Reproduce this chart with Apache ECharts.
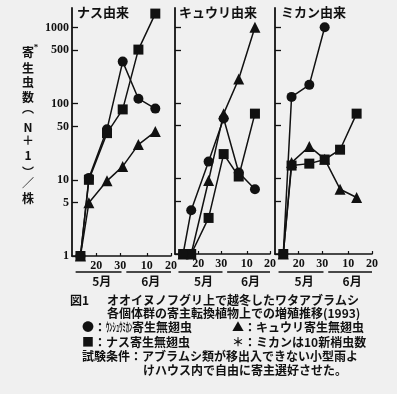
<!DOCTYPE html>
<html><head><meta charset="utf-8">
<script src="https://cdn.jsdelivr.net/npm/echarts@6/dist/echarts.min.js"></script>
<style>html,body{margin:0;padding:0;background:#f0f0f0}#c{width:397px;height:394px}</style>
</head><body><div id="c"></div>
<script>
// ---- data ----
const panelTitles = ['ナス由来', 'キュウリ由来', 'ミカン由来'];
// survey dates as day count from 1 May (1 June = 32)
const surveyDays = [13.5, 17, 24.5, 31, 37.5, 44.5];
// ナス由来
const nasuCircle   = [1, 10.6, 46, 356, 116, 86];
const nasuSquare   = [1, 10, 41, 84, 512, 1520];
const nasuTriangle = [1, 5, 9.7, 15, 29, 43];
// キュウリ由来
const kyuriCircle   = [1, 3.8, 16.7, 62, 12, 7.2];
const kyuriSquare   = [1, 1, 3.0, 21, 10.6, 72];
const kyuriTriangle = [1, 1, 9.4, 72, 207, 1000];
// ミカン由来
const mikanCircle   = [1, 120, 173, 1000];
const mikanSquare   = [1, 14.8, 15.7, 17.8, 24, 72];
const mikanTriangle = [1, 16.2, 26.5, 18, 7.2, 5.6];

const xTickValues = [20, 30, 41, 51];
const xTickLabels = ['20', '30', '10', '20'];
const yTickValues = [1, 5, 10, 50, 100, 500, 1000];
const yTickLabels = ['1', '5', '10', '50', '100', '500', '1000'];
const monthLabels = ['5月', '6月'];
const monthSpans = [[11.5, 30.5], [32.5, 51]];
const monthCenters = [22.3, 42.6];

const yName = ['寄', '生', '虫', '数', '︵', 'N', '＋', '1', '︶', '／', '株'];
const caption = [
  '図1', 'オオイヌノフグリ上で越冬したワタアブラムシ',
  '各個体群の寄主転換植物上での増殖推移(1993)',
  '●：', 'ｳﾝｼｭｳﾐｶﾝ', '寄生無翅虫', '▲：キュウリ寄生無翅虫',
  '■：ナス寄生無翅虫', '＊：ミカンは10新梢虫数',
  '試験条件：アブラムシ類が移出入できない小型雨よ',
  'けハウス内で自由に寄主選好させた。'
];

// ---- chart ----
const INK = '#111111';
const JP = '"Noto Sans CJK JP"';
const SERIF = '"Liberation Serif", "DejaVu Serif", serif';
const chart = echarts.init(document.getElementById('c'), null, {renderer: 'canvas'});

const grids = [
  {left: 72, top: 8, width: 99, height: 248},
  {left: 175, top: 8, width: 95, height: 246},
  {left: 275, top: 8, width: 97, height: 246}
];

const xAxes = grids.map((g, i) => ({
  type: 'value', gridIndex: i, min: 10, max: 51,
  axisLine: {show: true, lineStyle: {color: INK, width: 1.6}},
  axisTick: {show: true, inside: true, length: 3, customValues: xTickValues, lineStyle: {color: INK, width: 1.2}},
  axisLabel: {
    show: true, customValues: xTickValues, margin: 4,
    formatter: v => xTickLabels[xTickValues.indexOf(v)],
    fontFamily: SERIF, fontSize: 12, color: INK, fontWeight: 'bold'
  },
  splitLine: {show: false}
}));

const yAxes = grids.map((g, i) => ({
  type: 'log', logBase: 10, gridIndex: i, min: 1, max: 1800,
  axisLine: {show: true, lineStyle: {color: INK, width: 1.8}},
  axisTick: {show: true, inside: true, length: 6, customValues: yTickValues, lineStyle: {color: INK, width: 1.3}},
  axisLabel: {
    show: i === 0, customValues: yTickValues, margin: 3,
    formatter: v => yTickLabels[yTickValues.indexOf(v)] || '',
    fontFamily: SERIF, fontSize: 12, color: INK, fontWeight: 'bold'
  },
  splitLine: {show: false}
}));

function mk(values, gi, symbol, size) {
  return {
    type: 'line', xAxisIndex: gi, yAxisIndex: gi,
    data: values.map((v, k) => [surveyDays[k], v]),
    symbol: symbol, symbolSize: size, showSymbol: true,
    lineStyle: {color: INK, width: 1.5},
    itemStyle: {color: INK, borderWidth: 0},
    emphasis: {disabled: true}, animation: false
  };
}
const series = [
  mk(nasuTriangle, 0, 'triangle', 11), mk(nasuSquare, 0, 'rect', 10), mk(nasuCircle, 0, 'circle', 10),
  mk(kyuriTriangle, 1, 'triangle', 11), mk(kyuriSquare, 1, 'rect', 10), mk(kyuriCircle, 1, 'circle', 10),
  mk(mikanTriangle, 2, 'triangle', 11), mk(mikanSquare, 2, 'rect', 10), mk(mikanCircle, 2, 'circle', 10)
];

chart.setOption({
  backgroundColor: '#f0f0f0',
  animation: false,
  grid: grids,
  xAxis: xAxes,
  yAxis: yAxes,
  series: series
});

// ---- decorations (text) ----
const gfx = [];
function txt(x, y, text, font, align, extra) {
  const o = {type: 'text', x: x, y: y, silent: true,
    style: {text: text, font: font, fill: INK, align: align || 'left', verticalAlign: 'middle'}};
  if (extra) Object.assign(o, extra);
  gfx.push(o);
}
// panel titles
const titleX = [77, 179, 281];
panelTitles.forEach((t, i) => txt(titleX[i], 12, t, 'bold 13px ' + JP));

// month labels with underlines under each panel
grids.forEach((g, i) => {
  monthSpans.forEach((sp, m) => {
    const a = chart.convertToPixel({gridIndex: i}, [sp[0], 1]);
    const b = chart.convertToPixel({gridIndex: i}, [sp[1], 1]);
    const c = chart.convertToPixel({gridIndex: i}, [monthCenters[m], 1]);
    gfx.push({type: 'line', silent: true, shape: {x1: a[0], y1: 272, x2: b[0], y2: 272},
      style: {stroke: INK, lineWidth: 1.5}});
    txt(c[0], 281, monthLabels[m], 'bold 12px ' + JP, 'center');
  });
});

// vertical y-axis title
const yPos = [52, 68.5, 82.5, 97, 108, 127, 140, 155, 172, 183, 198];
yName.forEach((ch, k) => txt(28, yPos[k], ch, 'bold 12px ' + JP, 'center'));
txt(36, 48, '*', 'bold 9px ' + SERIF, 'center');

// caption
const F = 'bold 12px ' + JP;
txt(70, 300, caption[0], F);
txt(107, 300, caption[1], F);
txt(107, 313, caption[2], F);
txt(82, 327, caption[3], F);
txt(106, 327, caption[4], F, 'left', {scaleX: 0.55});
txt(132, 327, caption[5], F);
txt(232, 327, caption[6], F);
txt(82, 342, caption[7], F);
txt(232, 342, caption[8], F);
txt(82, 356, caption[9], F);
txt(143, 370, caption[10], F);

chart.setOption({graphic: gfx});
</script></body></html>
